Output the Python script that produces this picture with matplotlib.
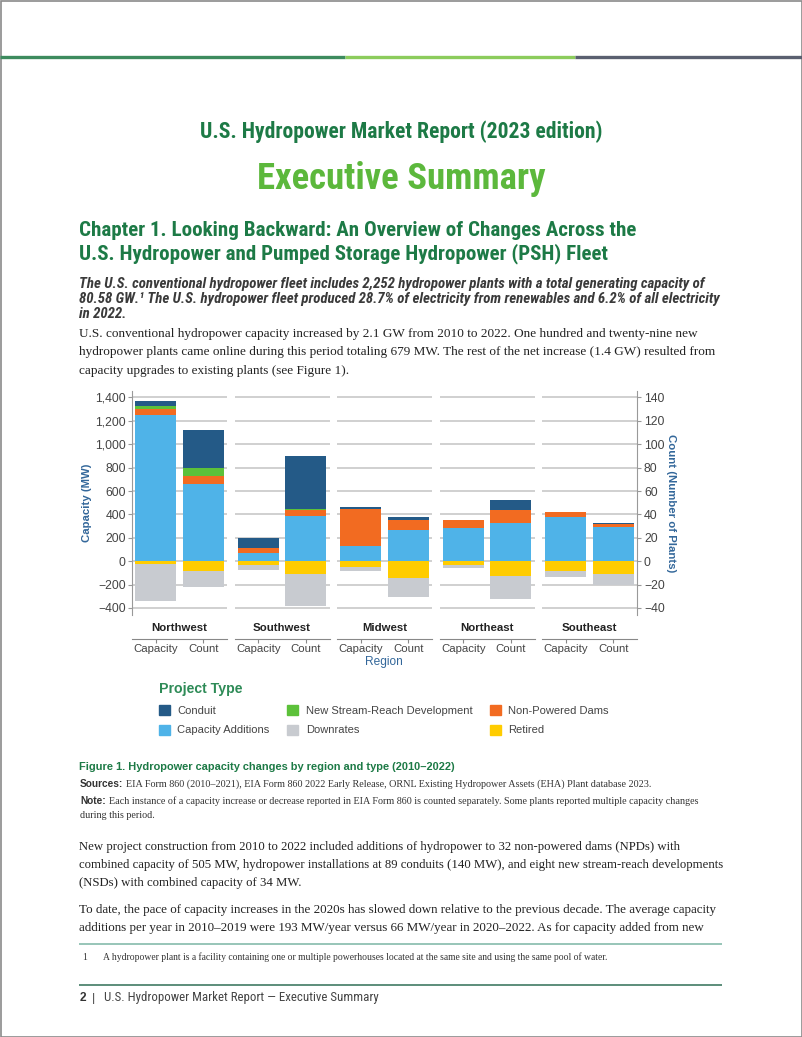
import matplotlib
matplotlib.use("Agg")
import numpy as np
import matplotlib.pyplot as plt
from matplotlib.ticker import StrMethodFormatter
from matplotlib.patches import Patch, Rectangle

# ---- data ----
regions = ["Northwest", "Southwest", "Midwest", "Northeast", "Southeast"]

# capacity change, MW
cap_additions_mw = [1250, 71, 126, 286, 380]
npd_mw = [52, 38, 320, 66, 37]
nsd_mw = [28, 0, 0, 0, 0]
conduit_mw = [40, 91, 17, 0, 0]
retired_mw = [-28, -29, -46, -34, -80]
downrates_mw = [-310, -48, -40, -23, -54]

# number of plants
cap_additions_n = [66, 39, 27, 33, 29]
npd_n = [7, 5, 8, 11, 3]
nsd_n = [7, 1, 0, 0, 0]
conduit_n = [32, 45, 3, 8, 1]
retired_n = [-8, -11, -14, -13, -11]
downrates_n = [-14, -27, -17, -19, -9]

mw_ticks = [-400, -200, 0, 200, 400, 600, 800, 1000, 1200, 1400]
n_ticks = [-40, -20, 0, 20, 40, 60, 80, 100, 120, 140]

C_CONDUIT = "#245a87"
C_ADD = "#4fb3e8"
C_NSD = "#5cc13a"
C_NPD = "#f26b21"
C_DOWN = "#c8cbd0"
C_RET = "#ffcc00"

DARK_GREEN = "#1d7a46"
LIGHT_GREEN = "#5cb83c"
AX_BLUE = "#33679a"
TXT = "#333333"

NARROW = ["Roboto Condensed", "DejaVu Sans"]
SANS = ["Liberation Sans", "DejaVu Sans"]
SERIF = ["Liberation Serif", "DejaVu Serif"]

W, H = 802, 1037
fig = plt.figure(figsize=(W / 100, H / 100), dpi=100)

# page canvas in pixel coordinates
pg = fig.add_axes([0, 0, 1, 1])
pg.set_xlim(0, W); pg.set_ylim(H, 0); pg.axis("off")
pg.add_patch(Rectangle((0.5, 0.5), W - 1, H - 1, fill=False, ec="#8a8a8a", lw=1.2))
pg.hlines(57, 0, 345, color="#3d8b5e", lw=2.4)
pg.hlines(57, 345, 575, color="#8ccc5c", lw=2.4)
pg.hlines(57, 575, W, color="#5a6070", lw=2.4)


def ntext(x, y, s, size, color, weight="bold", **kw):
    return pg.text(x, y, s, va="center", family=NARROW, stretch="condensed",
                   weight=weight, fontsize=size, color=color, **kw)


ntext(401, 132, "U.S. Hydropower Market Report (2023 edition)", 15.6, DARK_GREEN, ha="center")
ntext(401, 179, "Executive Summary", 26.5, LIGHT_GREEN, ha="center")
ntext(79, 231, "Chapter 1. Looking Backward: An Overview of Changes Across the", 15.1, DARK_GREEN)
ntext(79, 254, "U.S. Hydropower and Pumped Storage Hydropower (PSH) Fleet", 15.1, DARK_GREEN)

lead = ["The U.S. conventional hydropower fleet includes 2,252 hydropower plants with a total generating capacity of",
        "80.58 GW.¹ The U.S. hydropower fleet produced 28.7% of electricity from renewables and 6.2% of all electricity",
        "in 2022."]
for i, s in enumerate(lead):
    ntext(79, 284 + 15 * i, s, 10.75, "#3a3a3a", style="italic")

body1 = ["U.S. conventional hydropower capacity increased by 2.1 GW from 2010 to 2022. One hundred and twenty-nine new",
         "hydropower plants came online during this period totaling 679 MW. The rest of the net increase (1.4 GW) resulted from",
         "capacity upgrades to existing plants (see Figure 1)."]
for i, s in enumerate(body1):
    pg.text(79, 334 + 18.5 * i, s, va="center", family=SERIF, fontsize=9.5, color="#222222")

# ---- chart panels ----
px_left = [132, 234.5, 337, 439.5, 542]
pw, top, bot = 95, 391, 615
ylim_mw = (-460, 1455)
bw = 0.86

for i, reg in enumerate(regions):
    ax = fig.add_axes([px_left[i] / W, 1 - bot / H, pw / W, (bot - top) / H])
    ax.patch.set_alpha(0)
    axc = ax.twinx()
    ax.set_xlim(-0.5, 1.5)
    ax.set_ylim(*ylim_mw)
    axc.set_ylim(ylim_mw[0] / 10, ylim_mw[1] / 10)

    # stacked positives / negatives
    for a, x, add, npd, nsd, con, ret, dn in [
        (ax, 0, cap_additions_mw[i], npd_mw[i], nsd_mw[i], conduit_mw[i], retired_mw[i], downrates_mw[i]),
        (axc, 1, cap_additions_n[i], npd_n[i], nsd_n[i], conduit_n[i], retired_n[i], downrates_n[i]),
    ]:
        b = 0
        for v, c in [(add, C_ADD), (npd, C_NPD), (nsd, C_NSD), (con, C_CONDUIT)]:
            a.bar(x, v, bw, bottom=b, color=c, zorder=3)
            b += v
        a.bar(x, ret, bw, color=C_RET, zorder=3)
        a.bar(x, dn, bw, bottom=ret, color=C_DOWN, zorder=3)

    ax.set_yticks(mw_ticks)
    ax.grid(axis="y", color="#c8c8c8", lw=1.2, zorder=0)
    ax.set_axisbelow(True)
    for s in ["top", "right", "left"]:
        ax.spines[s].set_visible(False)
    for s in ["top", "right", "left", "bottom"]:
        axc.spines[s].set_visible(False)
    ax.spines["bottom"].set_position(("outward", 17))
    ax.spines["bottom"].set_color("#888888")
    ax.set_xticks([0, 1])
    ax.set_xticklabels(["Capacity", "Count"], family=SANS, fontsize=8.2, color="#444444")
    ax.tick_params(axis="x", length=3, color="#888888", pad=1.0)
    ax.text(0.5, -0.058, reg, transform=ax.transAxes, ha="center", va="center",
            family=SANS, weight="bold", fontsize=8.2, color="#222222")
    axc.set_yticks(n_ticks)

    if i == 0:
        ax.spines["left"].set_visible(True)
        ax.spines["left"].set_color("#999999")
        ax.yaxis.set_major_formatter(StrMethodFormatter("{x:,.0f}"))
        ax.tick_params(axis="y", length=3, color="#999999", pad=1.5, labelsize=8.8, labelcolor="#444444")
        for t in ax.get_yticklabels():
            t.set_family(SANS)
        ax.set_ylabel("Capacity (MW)", family=SANS, weight="bold", fontsize=8.2, color=AX_BLUE, labelpad=2)
    else:
        ax.tick_params(axis="y", left=False, labelleft=False)

    if i == len(regions) - 1:
        axc.spines["right"].set_visible(True)
        axc.spines["right"].set_color("#999999")
        axc.tick_params(axis="y", length=3, color="#999999", pad=2, labelsize=8.8, labelcolor="#444444")
        for t in axc.get_yticklabels():
            t.set_family(SANS)
        axc.set_ylabel("Count (Number of Plants)", family=SANS, weight="bold", fontsize=8.2,
                       color=AX_BLUE, rotation=-90, labelpad=8)
    else:
        axc.tick_params(axis="y", right=False, labelright=False)

pg.text(384, 662, "Region", ha="center", va="center", family=SANS, fontsize=8.6, color=AX_BLUE)

# legend
items = [("Conduit", C_CONDUIT), ("Capacity Additions", C_ADD),
         ("New Stream-Reach Development", C_NSD), ("Downrates", C_DOWN),
         ("Non-Powered Dams", C_NPD), ("Retired", C_RET)]
handles = [Patch(color=c, label=l) for l, c in items]
leg = fig.legend(handles=handles, ncol=3, loc="upper left", bbox_to_anchor=(149 / W, 1 - 672 / H),
                 frameon=False, title="Project Type", alignment="left",
                 prop={"family": SANS, "size": 8.0}, handlelength=1.0, handleheight=1.0,
                 handletextpad=0.65, columnspacing=1.6, labelspacing=0.8, labelcolor="#444444")
leg.get_title().set_fontsize(10.2)
leg.get_title().set_family(SANS)
leg.get_title().set_weight("bold")
leg.get_title().set_color("#2e8b57")

# caption and notes
pg.text(79, 767, "Figure 1. Hydropower capacity changes by region and type (2010\u20132022)",
        va="center", family=SANS, weight="bold", fontsize=7.95, color=DARK_GREEN)

r = fig.canvas.get_renderer()


def label_line(y, head, rest, size=7.3):
    t = pg.text(80, y, head, va="center", family=SANS, weight="bold", fontsize=size, color=TXT)
    bb = t.get_window_extent(r)
    pg.text(bb.x1 + 3, y, rest, va="center", family=SERIF, fontsize=size, color=TXT)


label_line(784, "Sources:", "EIA Form 860 (2010\u20132021), EIA Form 860 2022 Early Release, ORNL Existing Hydropower Assets (EHA) Plant database 2023.")
label_line(801, "Note:", "Each instance of a capacity increase or decrease reported in EIA Form 860 is counted separately. Some plants reported multiple capacity changes")
pg.text(80, 816, "during this period.", va="center", family=SERIF, fontsize=7.3, color=TXT)

body2 = ["New project construction from 2010 to 2022 included additions of hydropower to 32 non-powered dams (NPDs) with",
         "combined capacity of 505 MW, hydropower installations at 89 conduits (140 MW), and eight new stream-reach developments",
         "(NSDs) with combined capacity of 34 MW."]
for i, s in enumerate(body2):
    pg.text(79, 847 + 18 * i, s, va="center", family=SERIF, fontsize=9.15, color="#222222")
body3 = ["To date, the pace of capacity increases in the 2020s has slowed down relative to the previous decade. The average capacity",
         "additions per year in 2010\u20132019 were 193 MW/year versus 66 MW/year in 2020\u20132022. As for capacity added from new"]
for i, s in enumerate(body3):
    pg.text(79, 910 + 18 * i, s, va="center", family=SERIF, fontsize=9.4, color="#222222")

# footnote and footer
pg.hlines(944, 79, 722, color="#8fc0b2", lw=1.3)
pg.text(82, 957, "1", va="center", family=SERIF, fontsize=6.98, color=TXT)
pg.text(103, 957, "A hydropower plant is a facility containing one or multiple powerhouses located at the same site and using the same pool of water.",
        va="center", family=SERIF, fontsize=6.98, color=TXT)
pg.hlines(985, 79, 722, color="#4f8570", lw=1.3)
pg.text(80, 998, "2", va="center", family=SANS, weight="bold", fontsize=8.6, color=TXT)
ntext(92, 998, "|", 9.4, "#444444", weight="normal")
ntext(104, 998, "U.S. Hydropower Market Report \u2014 Executive Summary", 9.3, "#444444", weight="normal")

fig.savefig("out.png", dpi=100)
